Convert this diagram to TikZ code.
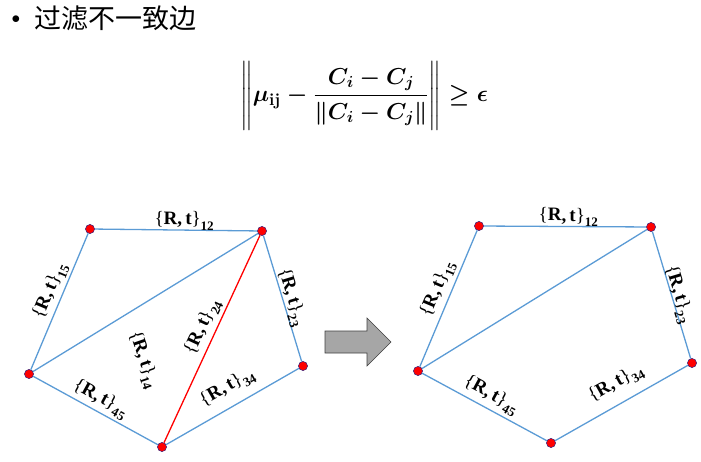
\documentclass[tikz,border=0pt]{standalone}
\usepackage{amsmath}
\usepackage{graphicx}
\usepackage{fontspec}
\newfontfamily\cjk{Noto Sans CJK SC}
\newfontfamily\labfont{Liberation Serif}
\definecolor{edgeblue}{RGB}{91,155,213}
\definecolor{arrowgray}{RGB}{166,166,166}
\tikzset{
  vert/.style={circle, fill=red, draw=black!40!blue!60!gray, line width=0.4pt, inner sep=0pt, minimum size=9pt},
  edgeb/.style={draw=edgeblue, line width=1.3pt},
  edger/.style={draw=red, line width=1.3pt},
  lab/.style={font=\labfont\fontsize{19}{21}\selectfont, inner sep=0.5pt},
}
\newcommand{\Rt}[1]{\{\textbf{R,\,t}\}\raisebox{-0.28em}{\fontsize{13}{13}\selectfont\textbf{#1}}}
\newsavebox{\fmlbox}
\begin{document}
\sbox{\fmlbox}{\resizebox{248pt}{!}{\fontsize{22}{26}\selectfont\boldmath$\displaystyle\left\Vert\rule[-28pt]{0pt}{62pt}\mu_{\text{\bfseries ij}}-\frac{C_i-C_j}{\left\Vert C_i-C_j\right\Vert}\right\Vert\geq\epsilon$}}%
\begin{tikzpicture}[x=1pt,y=-1pt]
\useasboundingbox (0,0) rectangle (701,462);
% title
\node[font=\fontsize{18}{20}\selectfont] (bul) at (16,20) {$\bullet$};
\node[anchor=west, font=\cjk\fontsize{27}{30}\selectfont, inner sep=0pt] (title) at (34,18) {过滤不一致边};
% formula
\node[inner sep=0pt] (fml) at (364,97) {\usebox{\fmlbox}};
% left graph
\node[vert] (a1) at (90,229) {};
\node[vert] (a2) at (262,231) {};
\node[vert] (a3) at (303,366) {};
\node[vert] (a4) at (162,447) {};
\node[vert] (a5) at (29,374) {};
\draw[edgeb] (a1) -- node[lab, sloped, above=-1pt, pos=0.55] {\Rt{12}} (a2);
\draw[edgeb] (a5) -- node[lab, sloped, above=2pt, pos=0.54] {\Rt{15}} (a1);
\draw[edgeb] (a2) -- node[lab, sloped, above=-2pt, pos=0.51] {\Rt{23}} (a3);
\draw[edgeb] (a4) -- node[lab, sloped, above=8pt, pos=0.53] {\Rt{34}} (a3);
\draw[edgeb] (a5) -- node[lab, sloped, above=2pt, pos=0.49] {\Rt{45}} (a4);
\draw[edgeb] (a5) -- (a2);
\draw[edger] (a4) -- node[lab, sloped, above=3pt, pos=0.53] {\Rt{24}} (a2);
\node[lab, rotate=-71] (l14) at (143,360) {\Rt{14}};
\foreach \n in {a1,a2,a3,a4,a5} {\node[vert] at (\n) {};}
% arrow
\draw[fill=arrowgray, draw=black!75, line width=0.6pt]
  (325,331) -- (367,331) -- (367,318) -- (391,342) -- (367,366) -- (367,353) -- (325,353) -- cycle;
% right graph
\node[vert] (b1) at (479,226) {};
\node[vert] (b2) at (651,227) {};
\node[vert] (b3) at (692,363) {};
\node[vert] (b4) at (551,443) {};
\node[vert] (b5) at (418,371) {};
\draw[edgeb] (b1) -- node[lab, sloped, above=-1pt, pos=0.52] {\Rt{12}} (b2);
\draw[edgeb] (b5) -- node[lab, sloped, above=3pt, pos=0.53] {\Rt{15}} (b1);
\draw[edgeb] (b2) -- node[lab, sloped, above=-4pt, pos=0.51] {\Rt{23}} (b3);
\draw[edgeb] (b4) -- node[lab, sloped, above=9pt, pos=0.53] {\Rt{34}} (b3);
\draw[edgeb] (b5) -- node[lab, sloped, above=3pt, pos=0.5] {\Rt{45}} (b4);
\draw[edgeb] (b5) -- (b2);
\foreach \n in {b1,b2,b3,b4,b5} {\node[vert] at (\n) {};}
\end{tikzpicture}
\end{document}
